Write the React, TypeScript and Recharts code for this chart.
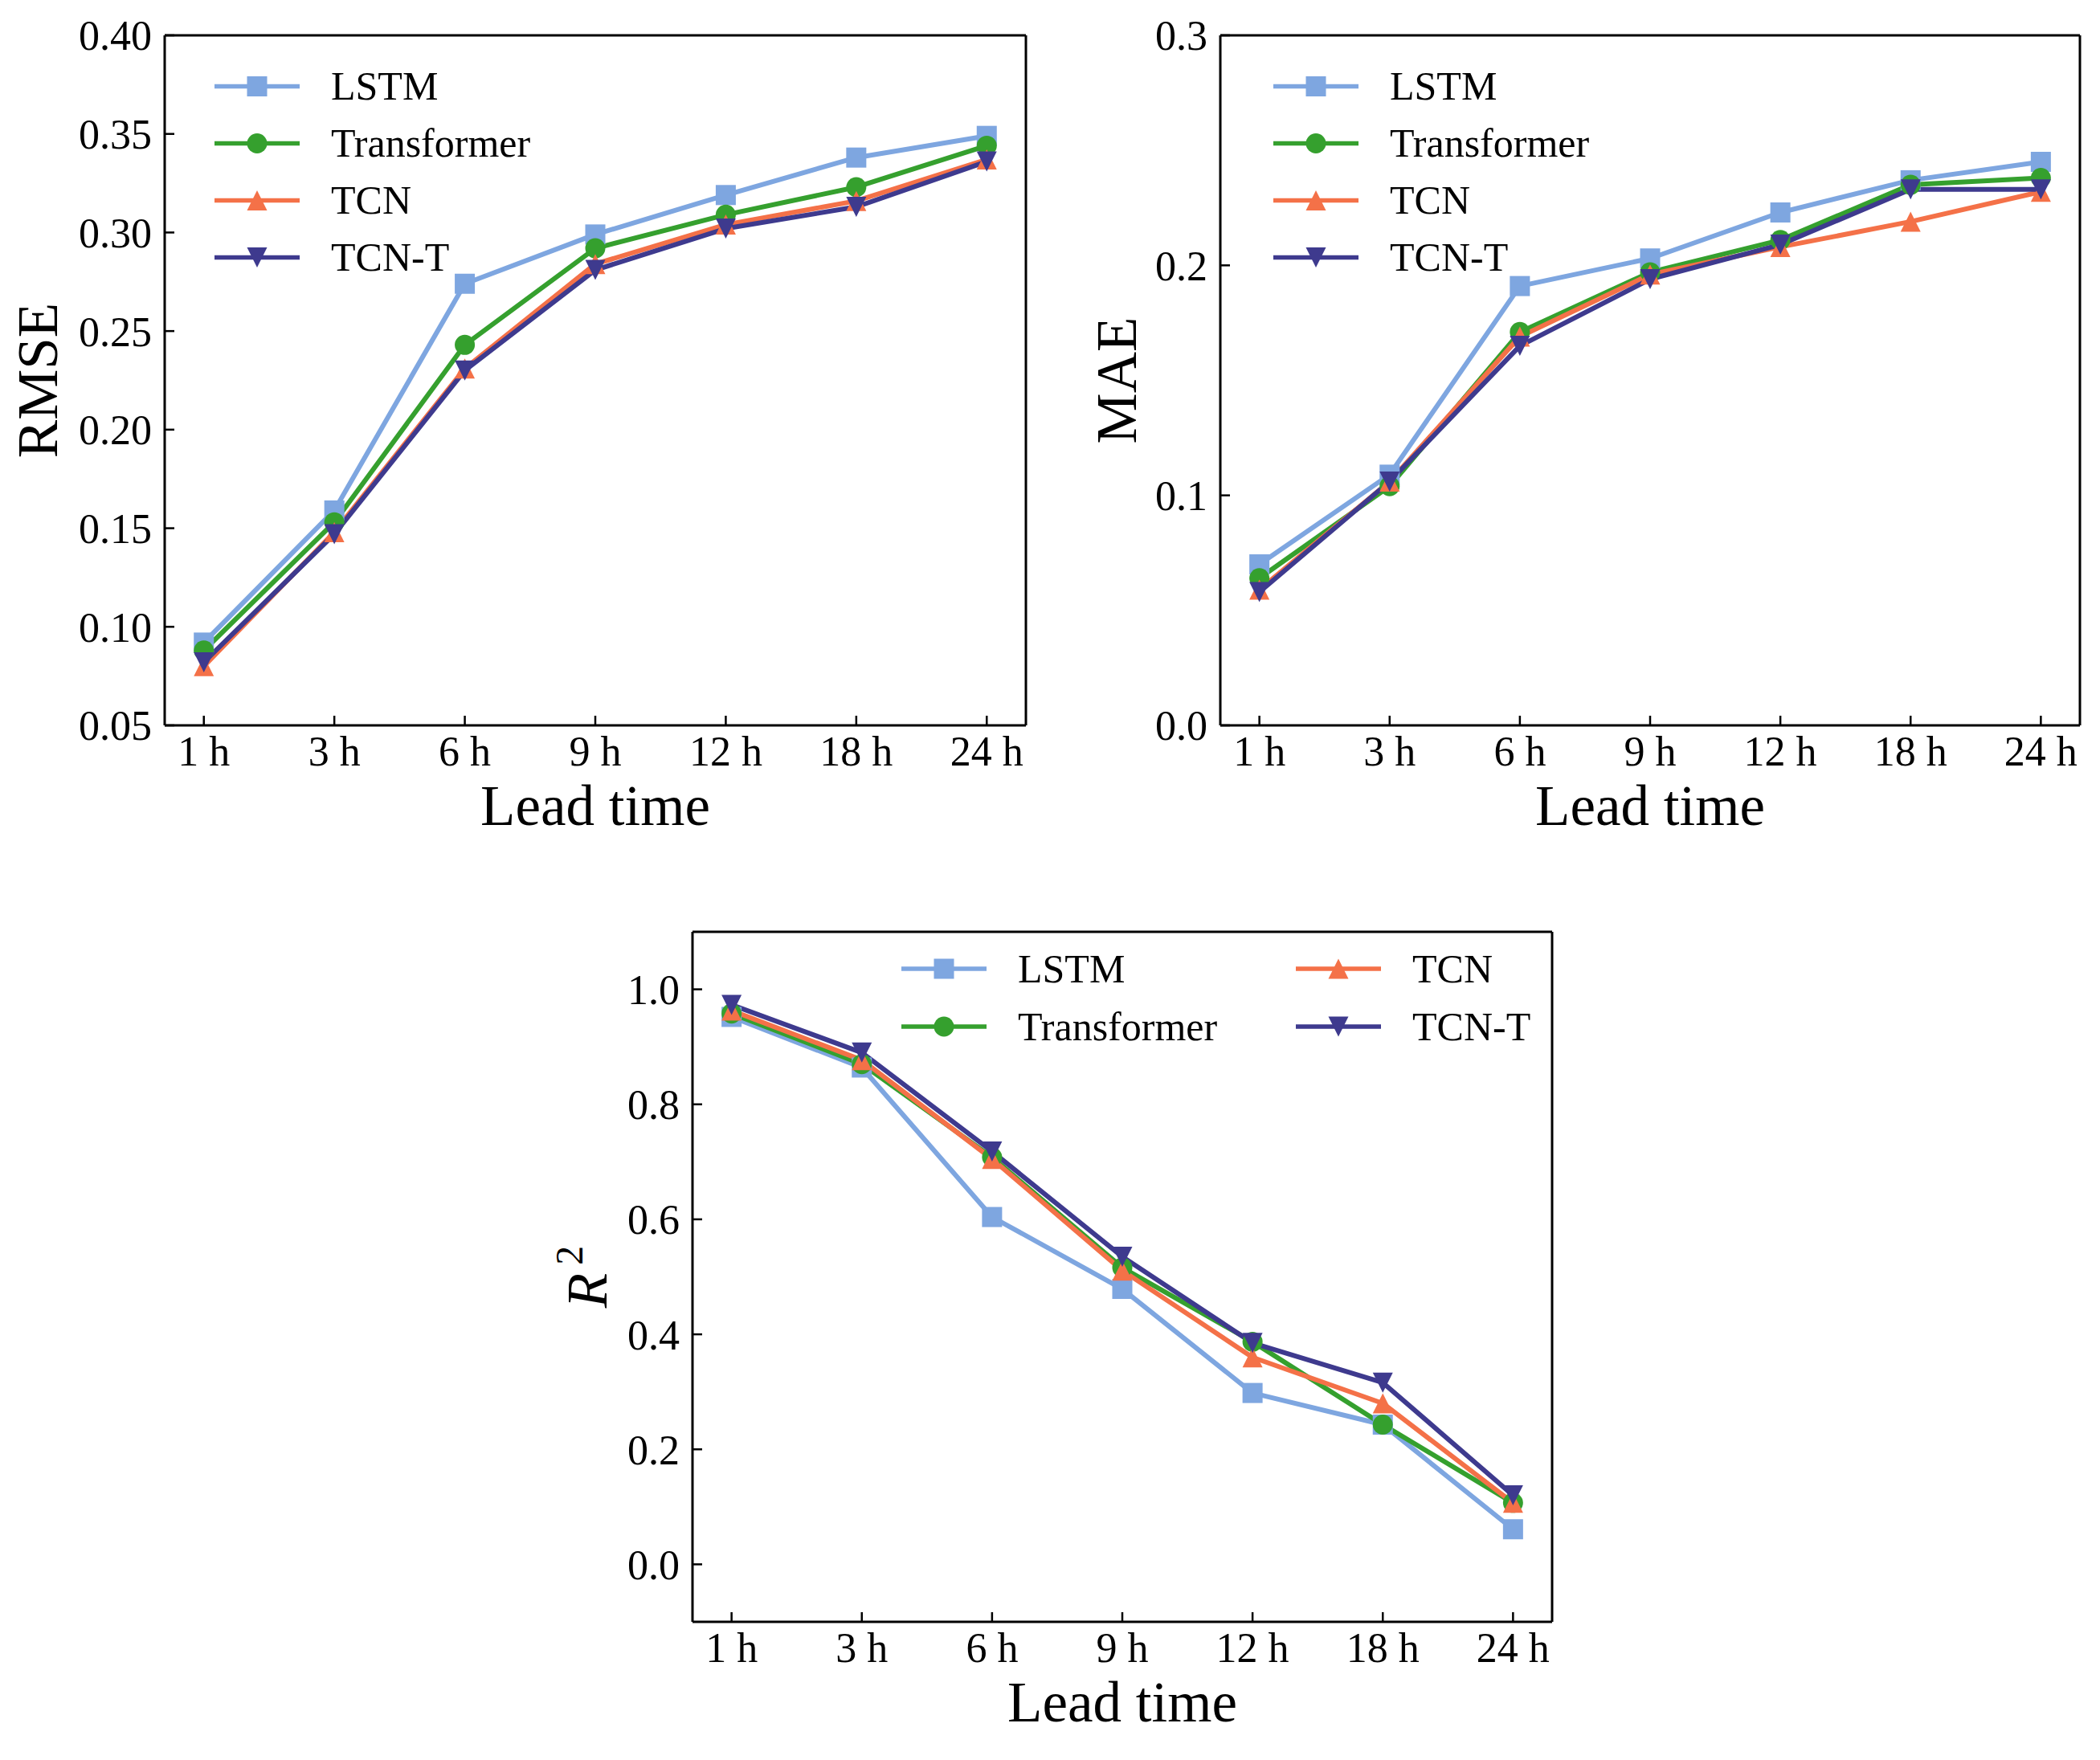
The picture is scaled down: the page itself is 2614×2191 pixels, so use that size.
import React from 'react';
import { LineChart, Line, XAxis, YAxis, Legend, Label } from 'recharts';

const FONT = '"Liberation Serif", "Times New Roman", Times, serif';

// categories
const leadTimes = ['1 h', '3 h', '6 h', '9 h', '12 h', '18 h', '24 h'];
const modelNames = ['LSTM', 'Transformer', 'TCN', 'TCN-T'];

// RMSE
const rmseLSTM = [0.092, 0.159, 0.274, 0.299, 0.319, 0.338, 0.349];
const rmseTransformer = [0.088, 0.153, 0.243, 0.292, 0.309, 0.323, 0.344];
const rmseTCN = [0.08, 0.148, 0.231, 0.284, 0.304, 0.316, 0.337];
const rmseTCNT = [0.082, 0.147, 0.23, 0.281, 0.302, 0.313, 0.336];

// MAE
const maeLSTM = [0.07, 0.109, 0.191, 0.203, 0.223, 0.237, 0.245];
const maeTransformer = [0.064, 0.104, 0.171, 0.197, 0.211, 0.235, 0.238];
const maeTCN = [0.059, 0.106, 0.169, 0.196, 0.208, 0.219, 0.232];
const maeTCNT = [0.058, 0.106, 0.165, 0.194, 0.209, 0.233, 0.233];

// R2
const r2LSTM = [0.952, 0.864, 0.604, 0.479, 0.298, 0.243, 0.061];
const r2Transformer = [0.958, 0.87, 0.708, 0.516, 0.387, 0.243, 0.107];
const r2TCN = [0.963, 0.877, 0.705, 0.511, 0.36, 0.28, 0.107];
const r2TCNT = [0.973, 0.89, 0.718, 0.535, 0.385, 0.316, 0.12];

// tick values
const xTicks = [0, 1, 2, 3, 4, 5, 6];
const rmseTicks = [0.05, 0.1, 0.15, 0.2, 0.25, 0.3, 0.35, 0.4];
const maeTicks = [0, 0.1, 0.2, 0.3];
const r2Ticks = [0, 0.2, 0.4, 0.6, 0.8, 1.0];

const series = [
  { key: 'lstm', color: '#7EA6E0', marker: 'square' },
  { key: 'transformer', color: '#35A02E', marker: 'circle' },
  { key: 'tcn', color: '#F47148', marker: 'up' },
  { key: 'tcnt', color: '#3E3A8E', marker: 'down' },
];

function buildRows(values: number[][]) {
  return leadTimes.map((t, i) => ({
    i,
    label: t,
    lstm: values[0][i],
    transformer: values[1][i],
    tcn: values[2][i],
    tcnt: values[3][i],
  }));
}

const rmseRows = buildRows([rmseLSTM, rmseTransformer, rmseTCN, rmseTCNT]);
const maeRows = buildRows([maeLSTM, maeTransformer, maeTCN, maeTCNT]);
const r2Rows = buildRows([r2LSTM, r2Transformer, r2TCN, r2TCNT]);

function MarkerShape({ cx, cy, kind, color, size = 25 }: any) {
  const h = size / 2;
  if (kind === 'square') return <rect x={cx - h} y={cy - h} width={size} height={size} fill={color} />;
  if (kind === 'circle') return <circle cx={cx} cy={cy} r={h} fill={color} />;
  if (kind === 'up')
    return <polygon points={`${cx},${cy - h} ${cx - h},${cy + h} ${cx + h},${cy + h}`} fill={color} />;
  return <polygon points={`${cx},${cy + h} ${cx - h},${cy - h} ${cx + h},${cy - h}`} fill={color} />;
}

function LegendBox({ rowsPerCol, rowH, colW }: any) {
  return (
    <div
      style={{
        display: 'grid',
        gridAutoFlow: 'column',
        gridTemplateRows: `repeat(${rowsPerCol}, ${rowH}px)`,
        gridAutoColumns: `${colW}px`,
        fontFamily: FONT,
      }}
    >
      {series.map((s, k) => (
        <div key={s.key} style={{ display: 'flex', alignItems: 'center', height: rowH }}>
          <svg width={106} height={rowH} style={{ display: 'block' }}>
            <line x1={0} x2={106} y1={rowH / 2} y2={rowH / 2} stroke={s.color} strokeWidth={5.5} />
            <MarkerShape cx={53} cy={rowH / 2} kind={s.marker} color={s.color} />
          </svg>
          <span style={{ marginLeft: 39, fontSize: 50, lineHeight: `${rowH}px`, color: '#000', whiteSpace: 'nowrap' }}>
            {modelNames[k]}
          </span>
        </div>
      ))}
    </div>
  );
}

const axisStroke = { stroke: '#000', strokeWidth: 3 };
const tickFont = { fill: '#000', fontSize: 52, fontFamily: FONT };

function Panel({ pos, margin, rows, domain, ticks, digits, title, titleX, legend }: any) {
  return (
    <div style={{ position: 'absolute', left: pos.left, top: pos.top }}>
      <LineChart width={pos.width} height={pos.height} data={rows} margin={margin}>
        <XAxis
          xAxisId="x"
          type="number"
          dataKey="i"
          domain={[-0.3, 6.3]}
          ticks={xTicks}
          interval={0}
          tickFormatter={(v: number) => leadTimes[v]}
          height={150}
          axisLine={axisStroke}
          tickLine={{ stroke: '#000', strokeWidth: 2.5 }}
          tickSize={-12}
          tickMargin={25}
          tick={tickFont}
        >
          <Label
            content={(p: any) => {
              const vb = p.viewBox;
              return (
                <text x={vb.x + vb.width / 2} y={vb.y + 124} textAnchor="middle" fontSize={71} fontFamily={FONT} fill="#000">
                  Lead time
                </text>
              );
            }}
          />
        </XAxis>
        <XAxis
          xAxisId="xt"
          orientation="top"
          type="number"
          dataKey="i"
          domain={[-0.3, 6.3]}
          height={1}
          tick={false}
          tickLine={false}
          axisLine={axisStroke}
        />
        <YAxis
          yAxisId="y"
          type="number"
          domain={domain}
          ticks={ticks}
          interval={0}
          allowDataOverflow
          tickFormatter={(v: number) => v.toFixed(digits)}
          width={150}
          axisLine={axisStroke}
          tickLine={{ stroke: '#000', strokeWidth: 2.5 }}
          tickSize={-12}
          tickMargin={28}
          tick={tickFont}
        >
          <Label
            content={(p: any) => {
              const vb = p.viewBox;
              const bx = vb.x + vb.width + titleX;
              const cy = vb.y + vb.height / 2;
              return (
                <text x={bx} y={cy} textAnchor="middle" fontSize={71} fontFamily={FONT} fill="#000" transform={`rotate(-90, ${bx}, ${cy})`}>
                  {title}
                </text>
              );
            }}
          />
        </YAxis>
        <YAxis
          yAxisId="yr"
          orientation="right"
          type="number"
          domain={domain}
          allowDataOverflow
          width={1}
          tick={false}
          tickLine={false}
          axisLine={axisStroke}
        />
        <Legend
          layout="horizontal"
          verticalAlign="middle"
          align="center"
          wrapperStyle={{ left: legend.left, top: legend.top, width: 'auto' }}
          content={() => <LegendBox rowsPerCol={legend.rows} rowH={legend.rowH} colW={legend.colW} />}
        />
        {series.map((s, k) => (
          <Line
            key={s.key}
            xAxisId="x"
            yAxisId="y"
            type="linear"
            dataKey={s.key}
            name={modelNames[k]}
            stroke={s.color}
            strokeWidth={6}
            strokeLinejoin="round"
            isAnimationActive={false}
            activeDot={false}
            dot={(p: any) => <MarkerShape key={`${s.key}-${p.index}`} cx={p.cx} cy={p.cy} kind={s.marker} color={s.color} />}
          />
        ))}
      </LineChart>
    </div>
  );
}

export default function App() {
  return (
    <div style={{ position: 'absolute', left: 0, top: 0, width: 2614, height: 2191, background: '#fff', fontFamily: FONT }}>
      <Panel
        pos={{ left: 0, top: 0, width: 1307, height: 1100 }}
        margin={{ top: 43, right: 29, bottom: 47, left: 55 }}
        rows={rmseRows}
        domain={[0.05, 0.4]}
        ticks={rmseTicks}
        digits={2}
        title="RMSE"
        titleX={-134}
        legend={{ left: 267, top: 72, rows: 4, rowH: 71, colW: 500 }}
      />
      <Panel
        pos={{ left: 1307, top: 0, width: 1307, height: 1100 }}
        margin={{ top: 43, right: 24, bottom: 47, left: 62 }}
        rows={maeRows}
        domain={[0, 0.3]}
        ticks={maeTicks}
        digits={1}
        title="MAE"
        titleX={-105}
        legend={{ left: 278, top: 72, rows: 4, rowH: 71, colW: 500 }}
      />
      <Panel
        pos={{ left: 650, top: 1100, width: 1314, height: 1091 }}
        margin={{ top: 59, right: 31, bottom: 22, left: 62 }}
        rows={r2Rows}
        domain={[-0.1, 1.1]}
        ticks={r2Ticks}
        digits={1}
        title={
          <>
            <tspan fontStyle="italic">R</tspan>
            <tspan dx={10} dy={-30} fontSize={48}>2</tspan>
          </>
        }
        titleX={-107}
        legend={{ left: 472, top: 70, rows: 2, rowH: 72, colW: 491 }}
      />
    </div>
  );
}
